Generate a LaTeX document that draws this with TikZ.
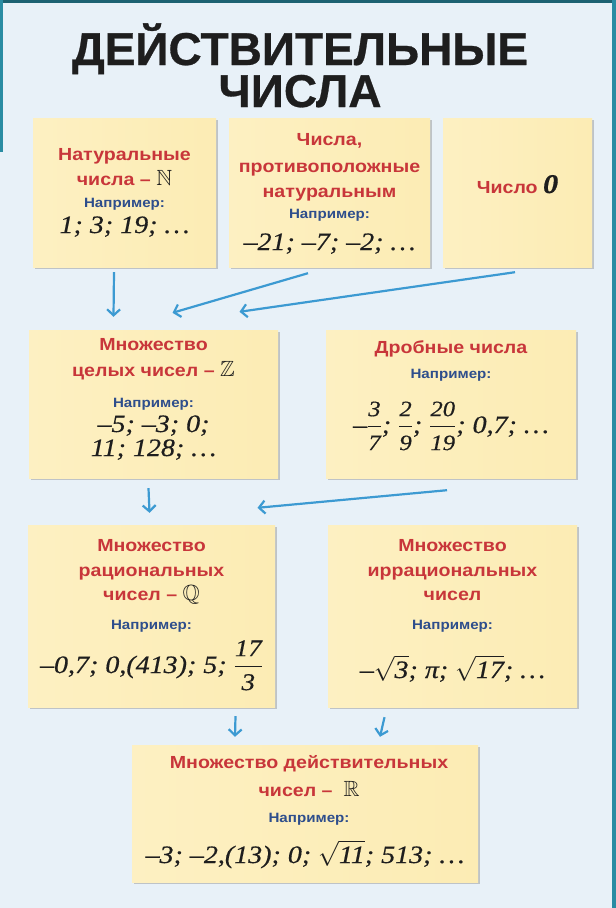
\documentclass[tikz,border=0pt]{standalone}
\usepackage{amsmath,amssymb}
\usepackage{fontspec}
\setmainfont{Liberation Serif}
\newfontfamily\sansb[FakeStretch=1.12]{Liberation Sans Bold}
\newfontfamily\titlef[FakeBold=0.6]{Liberation Sans Bold}
\newfontfamily\numf[FakeStretch=1.12,FakeBold=0.5]{Liberation Serif}
\usetikzlibrary{arrows.meta,shadows,calc}
\definecolor{bgc}{HTML}{E8F1F8}
\definecolor{rd}{HTML}{C8363A}
\definecolor{bl}{HTML}{2E4E8C}
\definecolor{arrc}{HTML}{3C9AD2}
\definecolor{edgeteal}{HTML}{2A8CA3}
\definecolor{txt}{HTML}{1E1E1E}
\definecolor{boxL}{HTML}{FDF0C2}
\definecolor{boxM}{HTML}{FFFBEC}
\definecolor{boxR}{HTML}{FCECB4}
\newcommand\bbl[1]{{\color{txt}\fontsize{22}{22}\selectfont\smash{$\mathbb{#1}$}}}
\newcommand\fr[3]{\ensuremath{\dfrac{\text{\numf\itshape\fontsize{#1}{#1}\selectfont #2}}{\text{\numf\itshape\fontsize{#1}{#1}\selectfont #3}}}}
\newcommand\rt[1]{\ensuremath{\smash[t]{\sqrt{\text{\numf\itshape #1}}}}}
\begin{document}
\begin{tikzpicture}[x=1pt,y=-1pt,
  boxnode/.style={rectangle, inner sep=0pt, left color=boxL, middle color=boxM, right color=boxR,
    drop shadow={shadow xshift=2pt, shadow yshift=-2pt, fill=black!45, opacity=.45}},
  head/.style={font=\sansb\fontsize{17.5}{20}\selectfont, text=rd, anchor=base, inner sep=0pt},
  exm/.style={font=\sansb\fontsize{13.5}{16}\selectfont, text=bl, anchor=base, inner sep=0pt},
  num/.style={font=\numf\fontsize{25}{28}\selectfont\itshape, text=txt, anchor=base, inner sep=0pt},
  arr/.style={draw=arrc, line width=2.2pt, -{Straight Barb[length=6pt,width=13pt,line width=2.2pt]}}]
\useasboundingbox (0,0) rectangle (616,908);
% background and frame
\fill[bgc] (0,0) rectangle (616,908);
\fill[edgeteal!70!black] (0,0) rectangle (616,3);
\fill[edgeteal] (0,0) rectangle (3,152);
\fill[edgeteal] (612,0) rectangle (616,908);
% title
\node[font=\titlef\fontsize{46}{50}\selectfont, text=txt, anchor=base, inner sep=0pt] (t1) at (300,65) {ДЕЙСТВИТЕЛЬНЫЕ};
\node[font=\titlef\fontsize{46}{50}\selectfont, text=txt, anchor=base, inner sep=0pt] (t2) at (300,107) {ЧИСЛА};
% boxes
\node[boxnode, minimum width=183pt, minimum height=149pt] (A) at (124.5,192.5) {};
\node[boxnode, minimum width=201pt, minimum height=149pt] (B) at (329.5,192.5) {};
\node[boxnode, minimum width=149pt, minimum height=149pt] (C) at (517.5,192.5) {};
\node[boxnode, minimum width=249pt, minimum height=148pt] (D) at (153.5,404) {};
\node[boxnode, minimum width=250pt, minimum height=148pt] (E) at (451,404) {};
\node[boxnode, minimum width=247pt, minimum height=182pt] (F) at (151.5,616) {};
\node[boxnode, minimum width=249pt, minimum height=182pt] (G) at (452.5,616) {};
\node[boxnode, minimum width=346pt, minimum height=137pt] (H) at (305,813.5) {};
% box A
\node[head] (a1) at (124.5,160) {Натуральные};
\node[head] (a2) at (124.5,185) {числа – \bbl{N}};
\node[exm] (a3) at (124.5,207) {Например:};
\node[num] (a4) at (124.5,233) {1; 3; 19; …};
% box B
\node[head] (b1) at (329.5,145) {Числа,};
\node[head] (b2) at (329.5,172) {противоположные};
\node[head] (b3) at (329.5,197) {натуральным};
\node[exm] (b4) at (329.5,218) {Например:};
\node[num] (b5) at (329.5,250) {–21; –7; –2; …};
% box C
\node[head] (c1) at (517.5,193) {Число {\color{txt}\numf\bfseries\itshape\fontsize{27}{28}\selectfont 0}};
% box D
\node[head] (d1) at (153.5,350) {Множество};
\node[head] (d2) at (153.5,376) {целых чисел – \bbl{Z}};
\node[exm] (d3) at (153.5,407) {Например:};
\node[num] (d4) at (153.5,432) {–5; –3; 0;};
\node[num] (d5) at (153.5,456) {11; 128; …};
% box E
\node[head] (e1) at (451,353) {Дробные числа};
\node[exm] (e2) at (451,378) {Например:};
\node[num] (e3) at (451,433) {–\fr{22}{3}{7}; \fr{22}{2}{9}; \fr{22}{20}{19}; 0,7; …};
% box F
\node[head] (f1) at (151.5,551) {Множество};
\node[head] (f2) at (151.5,576) {рациональных};
\node[head] (f3) at (151.5,600) {чисел – \bbl{Q}};
\node[exm] (f4) at (151.5,629) {Например:};
\node[num] (f5) at (151.5,673) {–0,7; 0,(413); 5; \fr{24}{17}{3}};
% box G
\node[head] (g1) at (452.5,551) {Множество};
\node[head] (g2) at (452.5,576) {иррациональных};
\node[head] (g3) at (452.5,600) {чисел};
\node[exm] (g4) at (452.5,629) {Например:};
\node[num] (g5) at (452.5,678) {–\rt{3}; π; \rt{17}; …};
% box H
\node[head] (h1) at (309,768) {Множество действительных};
\node[head] (h2) at (309,796) {чисел –\ \ \bbl{R}};
\node[exm] (h3) at (309,822) {Например:};
\node[num] (h4) at (305,863) {–3; –2,(13); 0; \rt{11}; 513; …};
% arrows
\draw[arr] ($(A.south)+(-10.5,5)$) -- ($(D.north)+(-40,-13)$);
\draw[arr] ($(B.south)+(-21.5,6)$) -- ($(D.north)+(19,-17)$);
\draw[arr] ($(C.south)+(-2.5,5)$) -- ($(D.north)+(86,-18)$);
\draw[arr] ($(D.south)+(-5,10)$) -- ($(F.north)+(-2,-12)$);
\draw[arr] ($(E.south)+(-4,12)$) -- ($(F.north)+(106,-17)$);
\draw[arr] ($(F.south)+(84,9)$) -- ($(H.north)+(-70,-8)$);
\draw[arr] ($(G.south)+(-68,10)$) -- ($(H.north)+(75,-8)$);
\end{tikzpicture}
\end{document}
